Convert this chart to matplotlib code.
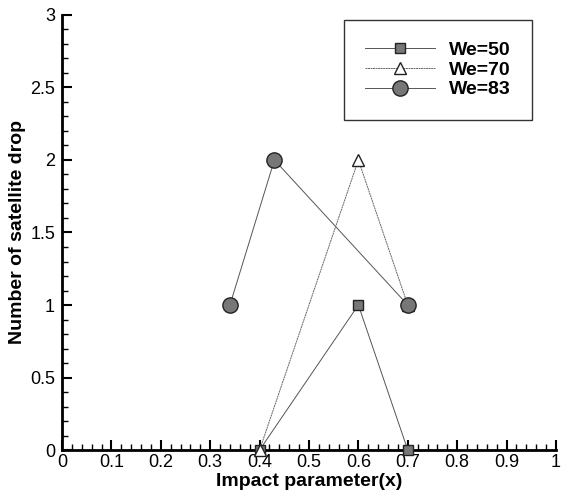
import matplotlib.pyplot as plt
from matplotlib.ticker import MultipleLocator, FuncFormatter

plt.rcParams['font.family'] = ['Liberation Sans', 'DejaVu Sans']

x50 = [0.4, 0.6, 0.7]
y50 = [0, 1, 0]
x70 = [0.4, 0.6, 0.7]
y70 = [0, 2, 1]
x83 = [0.34, 0.43, 0.7]
y83 = [1, 2, 1]

fig = plt.figure(figsize=(5.61, 4.93), dpi=100)
ax = fig.add_axes([0.1105, 0.0872, 0.8805, 0.8824])

ax.plot(x50, y50, color='#555555', lw=0.7, marker='s', ms=7,
        mfc='#777777', mec='#222222', label='We=50', clip_on=False, zorder=3)
ax.plot(x70, y70, color='#666666', lw=0.7, ls=(0, (2, 0.6)), marker='^', ms=8,
        mfc='white', mec='#222222', label='We=70', clip_on=False, zorder=3)
ax.plot(x83, y83, color='#555555', lw=0.7, marker='o', ms=11,
        mfc='#777777', mec='#222222', label='We=83', clip_on=False, zorder=3)

ax.set_xlim(0, 1)
ax.set_ylim(0, 3)
ax.xaxis.set_major_locator(MultipleLocator(0.1))
ax.xaxis.set_minor_locator(MultipleLocator(0.02))
ax.yaxis.set_major_locator(MultipleLocator(0.5))
ax.yaxis.set_minor_locator(MultipleLocator(0.1))
fmt = FuncFormatter(lambda v, p: f'{v:g}')
ax.xaxis.set_major_formatter(fmt)
ax.yaxis.set_major_formatter(fmt)
ax.tick_params(which='both', direction='in', labelsize=13, width=1.5)
ax.tick_params(which='major', length=7)
ax.tick_params(axis='x', which='major', pad=3)
ax.tick_params(axis='y', which='major', pad=5)
ax.tick_params(which='minor', length=4, width=1)
ax.spines['top'].set_visible(False)
ax.spines['right'].set_visible(False)
ax.spines['left'].set_linewidth(2)
ax.spines['bottom'].set_linewidth(2)

ax.set_xlabel('Impact parameter(x)', fontsize=14, fontweight='bold', labelpad=1)
ax.set_ylabel('Number of satellite drop', fontsize=14, fontweight='bold', labelpad=3)

leg = ax.legend(loc='upper right', bbox_to_anchor=(0.951, 0.988), borderaxespad=0,
                prop={'weight': 'bold', 'size': 14},
                fancybox=False, edgecolor='black', handlelength=3.6,
                borderpad=1.1, labelspacing=0.1, handletextpad=0.7)
leg.get_frame().set_linewidth(1)

fig.savefig('out.png', dpi=100)
